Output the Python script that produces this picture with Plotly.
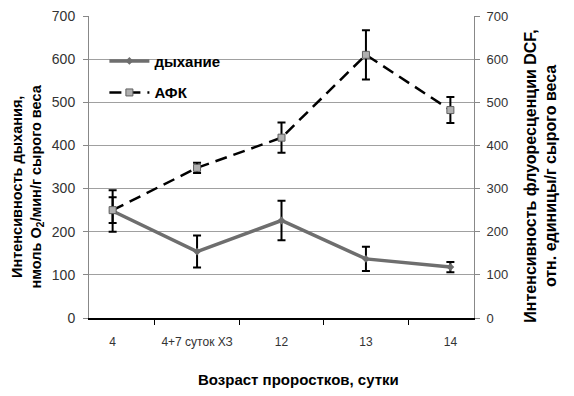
import plotly.graph_objects as go

categories = ["4", "4+7 суток ХЗ", "12", "13", "14"]
resp = [248, 154, 226, 137, 118]
resp_err = [48, 37, 46, 28, 12]
ros = [250, 348, 418, 610, 482]
ros_err = [30, 12, 35, 57, 30]

FONT = "Liberation Sans"

fig = go.Figure()
fig.add_trace(go.Scatter(
    x=categories, y=resp, name="<b>дыхание</b>", mode="lines+markers",
    legendgroup="a",
    line=dict(color="#6e6e6e", width=3.5),
    marker=dict(symbol="diamond", size=6, color="#6e6e6e"),
    error_y=dict(type="data", array=resp_err, color="black", thickness=2, width=4),
))
fig.add_trace(go.Scatter(
    x=categories, y=ros, name="<b>АФК</b>", mode="lines+markers", yaxis="y2",
    legendgroup="b",
    line=dict(color="black", width=2.5, dash="12px,7px"),
    marker=dict(symbol="square", size=7, color="#b0b0b0", line=dict(color="#606060", width=1)),
    error_y=dict(type="data", array=ros_err, color="black", thickness=2, width=4),
))

# page body has an 8px default margin; compensate so the plot area lands where the reference has it
fig.update_layout(
    width=566, height=388,
    margin=dict(l=81, r=100, t=8, b=78, autoexpand=False),
    paper_bgcolor="white", plot_bgcolor="white",
    font=dict(family=FONT, size=11, color="#333"),
    showlegend=True,
    legend=dict(x=0.04, y=0.905, xanchor="left", yanchor="top",
                bgcolor="rgba(0,0,0,0)", font=dict(size=15, color="black", family=FONT),
                traceorder="grouped", tracegroupgap=9, itemwidth=40),
    xaxis=dict(type="category", tickson="boundaries", ticks="outside", ticklen=5,
               tickcolor="black", showline=True, linecolor="black", linewidth=1.5,
               showgrid=False, tickangle=0, tickfont=dict(size=12, color="#333"), automargin=False,
               ticklabelstandoff=12),
    yaxis=dict(range=[0, 700], dtick=100, ticks="outside", ticklen=5, tickcolor="#888",
               showline=True, linecolor="#888", showgrid=True, gridcolor="#a0a0a0", gridwidth=1,
               zeroline=False, tickfont=dict(size=14, color="#333"), automargin=False,
               ticklabeloverflow="allow", ticklabelstandoff=5),
    yaxis2=dict(range=[0, 700], dtick=100, overlaying="y", side="right", ticks="outside",
                ticklen=5, tickcolor="#888", showline=True, linecolor="#888", showgrid=False,
                zeroline=False, tickfont=dict(size=13, color="#333"), automargin=False,
                ticklabeloverflow="allow", ticklabelstandoff=4),
    annotations=[
        dict(text="<b>Интенсивность дыхания,<br>нмоль O<sub>2</sub>/мин/г сырого веса</b>",
             xref="paper", yref="paper", x=-0.16, y=0.437, xanchor="center", yanchor="middle",
             textangle=-90, showarrow=False, font=dict(size=14.5, color="black", family=FONT)),
        dict(text="<b>Интенсивность флуоресценции DCF,<br>отн. единицы/г сырого веса</b>",
             xref="paper", yref="paper", x=1.173, y=0.47, xanchor="center", yanchor="middle",
             textangle=-90, showarrow=False, font=dict(size=16, color="black", family=FONT)),
        dict(text="<b>Возраст проростков, сутки</b>",
             xref="paper", yref="paper", x=0.545, y=-0.205, xanchor="center", yanchor="middle",
             showarrow=False, font=dict(size=15, color="black", family=FONT)),
    ],
)

fig.write_html("out.html")
